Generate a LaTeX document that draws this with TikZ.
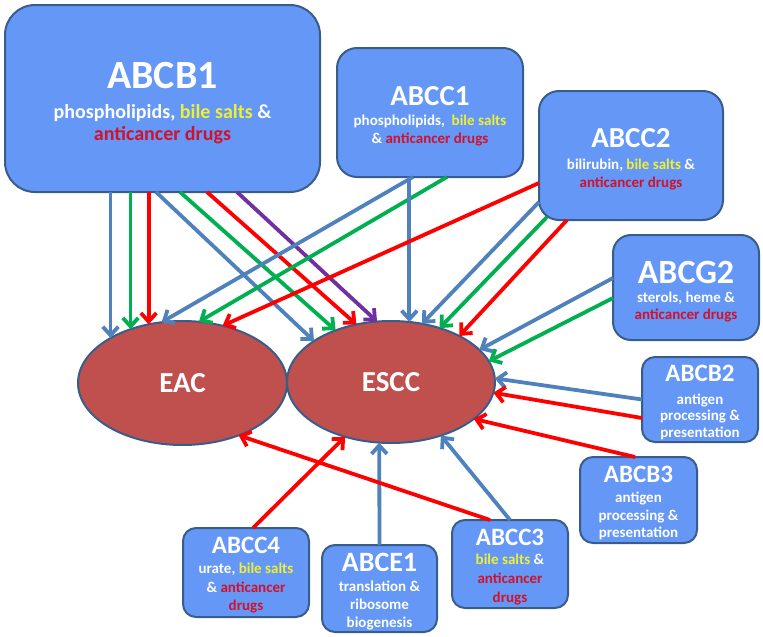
\documentclass[tikz,border=0pt]{standalone}
\usepackage{fontspec}
\setmainfont{Carlito}
\usetikzlibrary{arrows.meta,shapes.geometric,calc}
\definecolor{boxfill}{RGB}{101,151,247}
\definecolor{boxline}{RGB}{56,93,138}
\definecolor{ellfill}{RGB}{192,80,77}
\definecolor{ablue}{RGB}{79,129,189}
\definecolor{agreen}{RGB}{0,176,80}
\definecolor{ared}{RGB}{255,0,0}
\definecolor{apurple}{RGB}{112,48,160}
\definecolor{ylw}{RGB}{240,240,50}
\definecolor{drug}{RGB}{210,18,42}
\newcommand{\bsalts}{\textcolor{ylw}{bile salts}}
\newcommand{\adrug}[1]{\textcolor{drug}{#1}}
\newcommand{\tst}{\rule{0pt}{0.9em}}
\newcommand{\fsz}[2]{\fontsize{#1}{#2}\selectfont}
\begin{document}
\begin{tikzpicture}[x=1pt,y=-1pt,
  abox/.style={draw=boxline, line width=2pt, fill=boxfill, text=white, font=\bfseries, align=center, inner sep=0pt, outer sep=0pt},
  tumour/.style={ellipse, draw=boxline, line width=2pt, fill=ellfill, text=white, font=\bfseries\fsz{29}{34}, inner sep=0pt, outer sep=0pt},
  arr/.style={line width=3.8pt, -{Straight Barb[length=8.5pt,width=15.5pt]}},
]
\useasboundingbox (0,0) rectangle (763,637);

% boxes
\node[abox, minimum width=315, minimum height=187, rounded corners=30, font=\bfseries\fsz{20}{22}] (b1) at (162.5,98.5)
  {{\fsz{40}{44}\tst ABCB1}\\[8pt] phospholipids, \bsalts{} \&\\ \adrug{anticancer drugs}};
\node[abox, minimum width=186, minimum height=129, rounded corners=20, font=\bfseries\fsz{15}{18}] (c1) at (430,112.5)
  {{\fsz{29}{34}\tst ABCC1}\\[2pt] phospholipids,\ \ \bsalts\\ \& \adrug{anticancer drugs}};
\node[abox, minimum width=184, minimum height=129, rounded corners=20, font=\bfseries\fsz{15}{18}] (c2) at (631,155.5)
  {{\fsz{29}{34}\tst ABCC2}\\[4pt] bilirubin, \bsalts{} \&\\ \adrug{anticancer drugs}};
\node[abox, minimum width=146, minimum height=105, rounded corners=18, font=\bfseries\fsz{15}{16.5}] (g2) at (686,287.5)
  {{\fsz{34}{38}\tst ABCG2}\\[2.5pt] sterols, heme \&\\ \adrug{anticancer drugs}};
\node[abox, minimum width=116, minimum height=85, rounded corners=13, font=\bfseries\fsz{15}{16.7}] (b2) at (700,399.5)
  {{\fsz{25}{30}\tst ABCB2}\\[6pt] antigen\\ processing \&\\ presentation};
\node[abox, minimum width=117, minimum height=86, rounded corners=13, font=\bfseries\fsz{15}{17.5}] (b3) at (638.5,500)
  {{\fsz{25}{30}\tst ABCB3}\\[3pt] antigen\\ processing \&\\ presentation};
\node[abox, minimum width=126, minimum height=89, rounded corners=13, font=\bfseries\fsz{15}{18.5}] (c4) at (246,572.5)
  {{\fsz{25}{30}\tst ABCC4}\\[1.5pt] urate, \bsalts\\ \& \adrug{anticancer}\\ \adrug{drugs}};
\node[abox, minimum width=115, minimum height=87, rounded corners=13, font=\bfseries\fsz{15}{18}] (e1) at (379.5,588.5)
  {{\fsz{28}{32}\tst ABCE1}\\[2pt] translation \&\\ ribosome\\ biogenesis};
\node[abox, minimum width=116, minimum height=88, rounded corners=13, font=\bfseries\fsz{15}{19}] (c3) at (510,564)
  {{\fsz{25}{30}\tst ABCC3}\\[0pt] \bsalts{} \&\\ \adrug{anticancer}\\ \adrug{drugs}};

% tumours
\node[tumour, minimum width=209, minimum height=124] (eac) at (182.5,383) {EAC};
\node[tumour, minimum width=208, minimum height=122] (escc) at (391,382) {ESCC};

% ABCB1
\draw[arr, ablue]   (eac.148 |- b1.south) -- (eac.148);
\draw[arr, agreen]  (eac.134 |- b1.south) -- (eac.134);
\draw[arr, ared]    (eac.120 |- b1.south) -- (eac.120);
\draw[arr, ablue]   ([xshift=151]b1.south west) -- (escc.152);
\draw[arr, agreen]  ([xshift=175]b1.south west) -- (escc.137);
\draw[arr, ared]    ([xshift=202]b1.south west) -- (escc.121);
\draw[arr, apurple] ([xshift=232]b1.south west) -- (escc.103);
% ABCC1
\draw[arr, ablue]   ([xshift=76]c1.south west) -- (eac.109);
\draw[arr, agreen]  ([xshift=110]c1.south west) -- (eac.75);
\draw[arr, ablue]   (escc.73 |- c1.south) -- (escc.73);
% ABCC2
\draw[arr, ared]    ($(c2.south west)+(0,-37)$) -- (eac.55);
\draw[arr, ablue]   ($(c2.south west)+(0,-18)$) -- (escc.62);
\draw[arr, agreen]  ($(c2.south west)+(8,-3)$) -- (escc.48);
\draw[arr, ared]    ($(c2.south west)+(28,0)$) -- (escc.34);
% ABCG2
\draw[arr, ablue]   ($(g2.west)+(0,-9.5)$) -- (escc.20);
\draw[arr, agreen]  ($(g2.west)+(0,10.5)$) -- (escc.12);
% ABCB2
\draw[arr, ablue]   (b2.west) -- (escc.2);
\draw[arr, ared]    ($(b2.west)+(0,18.5)$) -- (escc.-6);
% ABCB3
\draw[arr, ared]    ($(b3.north west)+(55,0)$) -- (escc.-24);
% ABCC4
\draw[arr, ared]    ($(c4.north west)+(70,0)$) -- (escc.-130);
% ABCE1
\draw[arr, ablue]   (e1.north) -- (escc.-101);
% ABCC3
\draw[arr, ablue]   (c3.north) -- (escc.-47);
\draw[arr, ared]    ($(c3.north)+(-20,0)$) -- (eac.-43);
\end{tikzpicture}
\end{document}
